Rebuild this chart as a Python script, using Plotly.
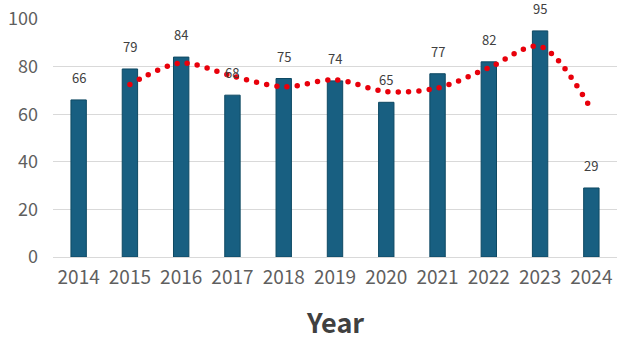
import plotly.graph_objects as go

years = ["2014", "2015", "2016", "2017", "2018", "2019", "2020", "2021", "2022", "2023", "2024"]
values = [66, 79, 84, 68, 75, 74, 65, 77, 82, 95, 29]
trend_years = ["2015", "2016", "2017", "2018", "2019", "2020", "2021", "2022", "2023", "2024"]
trend_values = [72.5, 81.5, 76, 71.5, 74.5, 69.5, 71, 79.5, 88.5, 62]
y_ticks = [0, 20, 40, 60, 80, 100]

FONT = "Noto Sans CJK SC"

fig = go.Figure()
fig.add_trace(go.Bar(
    x=years, y=values,
    marker=dict(color="#185f81", line=dict(color="#0e4963", width=1)),
    width=0.3,
    hoverinfo="x+y",
))
fig.add_trace(go.Scatter(
    x=trend_years, y=trend_values, mode="lines",
    line=dict(color="#e8000b", width=5.5, dash="0px,10.3px", shape="spline", smoothing=0.9),
    hoverinfo="skip",
))

annotations = [dict(
    x=i, y=v, xref="x", yref="y", text=str(v), showarrow=False,
    yanchor="bottom", yshift=11,
    font=dict(family=FONT, size=13, color="#404040"),
) for i, v in enumerate(values)]
annotations.append(dict(
    text="<b>Year</b>", x=0.5, y=-0.27, xref="paper", yref="paper",
    xanchor="center", yanchor="middle", showarrow=False,
    font=dict(family=FONT, size=27, color="#404040"),
))

fig.update_layout(
    width=624, height=341,
    margin=dict(l=53, r=7, t=19, b=84),
    paper_bgcolor="white", plot_bgcolor="white",
    showlegend=False,
    font=dict(family=FONT),
    xaxis=dict(
        type="category", categoryarray=years, categoryorder="array",
        showgrid=False, zeroline=False, showline=False,
        tickfont=dict(family=FONT, size=19, color="#5f5f5f"),
        ticklabelstandoff=7, automargin=False,
    ),
    yaxis=dict(
        range=[0, 100], tickvals=y_ticks,
        showgrid=True, gridcolor="#d9d9d9", gridwidth=1,
        zeroline=True, zerolinecolor="#d9d9d9", zerolinewidth=1,
        showline=False,
        tickfont=dict(family=FONT, size=18, color="#5f5f5f"),
        ticklabelstandoff=14, automargin=False,
    ),
    annotations=annotations,
)

post = """
var st = document.createElement('style');
st.innerHTML = 'html, body { margin: 0 !important; padding: 0 !important; overflow: hidden; } .scatterlayer .js-line { stroke-linecap: round !important; }';
document.head.appendChild(st);
"""
fig.write_html("out.html", post_script=post, config={"displayModeBar": False})
